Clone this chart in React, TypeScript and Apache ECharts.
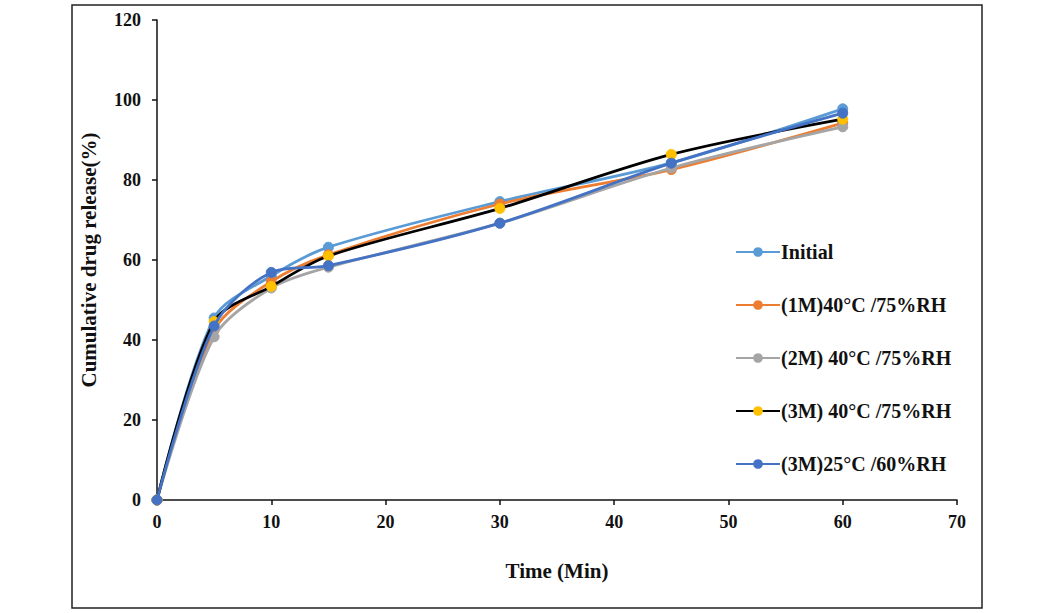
import React, { useEffect, useRef } from "react";
import * as echarts from "echarts";

const times = [0, 5, 10, 15, 30, 45, 60];
const initial = [0, 45.5, 56, 63.2, 74.6, 84.3, 97.8];
const m1_40 = [0, 42.5, 54.6, 61.3, 74.0, 82.6, 94.2];
const m2_40 = [0, 40.8, 53.0, 58.2, 69.2, 83.0, 93.3];
const m3_40 = [0, 44.6, 53.4, 61.0, 72.9, 86.4, 95.2];
const m3_25 = [0, 43.5, 56.9, 58.6, 69.2, 84.2, 96.7];

const seriesNames = [
  "Initial",
  "(1M)40°C /75%RH",
  "(2M) 40°C /75%RH",
  "(3M) 40°C /75%RH",
  "(3M)25°C /60%RH",
];
const seriesData = [initial, m1_40, m2_40, m3_40, m3_25];
const lineColors = ["#5B9BD5", "#ED7D31", "#A5A5A5", "#000000", "#4472C4"];
const markerColors = ["#5B9BD5", "#ED7D31", "#A5A5A5", "#FFC000", "#4472C4"];

const FONT = "'Liberation Serif', 'DejaVu Serif', serif";

export default function App() {
  const ref = useRef<HTMLDivElement>(null);
  useEffect(() => {
    if (!ref.current) return;
    const chart = echarts.init(ref.current, undefined, { renderer: "svg" });
    chart.setOption({
      animation: false,
      backgroundColor: "#ffffff",
      grid: { left: 157, right: 97, top: 20, bottom: 113 },
      graphic: [
        {
          type: "rect",
          shape: { x: 72, y: 5, width: 910, height: 603 },
          style: { fill: "none", stroke: "#222", lineWidth: 1.5 },
          silent: true,
        },
      ],
      legend: {
        orient: "vertical",
        left: 730,
        top: 237,
        itemWidth: 44,
        itemHeight: 12,
        itemGap: 33,
        data: seriesNames,
        textStyle: {
          fontFamily: FONT,
          fontWeight: "bold",
          fontSize: 20,
          color: "#111",
          padding: [0, 0, 0, -4],
        },
      },
      xAxis: {
        type: "value",
        min: 0,
        max: 70,
        interval: 10,
        name: "Time (Min)",
        nameLocation: "middle",
        nameGap: 60,
        nameTextStyle: { fontFamily: FONT, fontWeight: "bold", fontSize: 21, color: "#111" },
        axisLine: { show: true, lineStyle: { color: "#111", width: 1.5 } },
        axisTick: { show: true, inside: false, length: 5, lineStyle: { color: "#111", width: 1.5 } },
        axisLabel: { fontFamily: FONT, fontWeight: "bold", fontSize: 18, color: "#111", margin: 13 },
        splitLine: { show: false },
      },
      yAxis: {
        type: "value",
        min: 0,
        max: 120,
        interval: 20,
        name: "Cumulative drug release(%)",
        nameLocation: "middle",
        nameGap: 58,
        nameRotate: 90,
        nameTextStyle: { fontFamily: FONT, fontWeight: "bold", fontSize: 21, color: "#111" },
        axisLine: { show: true, lineStyle: { color: "#111", width: 1.5 } },
        axisTick: { show: true, inside: false, length: 5, lineStyle: { color: "#111", width: 1.5 } },
        axisLabel: { fontFamily: FONT, fontWeight: "bold", fontSize: 18, color: "#111", margin: 16 },
        splitLine: { show: false },
      },
      series: seriesNames.map((name, i) => ({
        name,
        type: "line",
        data: times.map((t, j) => [t, seriesData[i][j]]),
        smooth: 0.3,
        symbol: "circle",
        symbolSize: 10,
        lineStyle: { color: lineColors[i], width: 2.8 },
        itemStyle: { color: markerColors[i], borderColor: markerColors[i] },
        z: 2 + i,
      })),
    });
    return () => chart.dispose();
  }, []);
  return (
    <div
      ref={ref}
      style={{ position: "fixed", left: 0, top: 0, width: 1054, height: 613, background: "#fff" }}
    />
  );
}
